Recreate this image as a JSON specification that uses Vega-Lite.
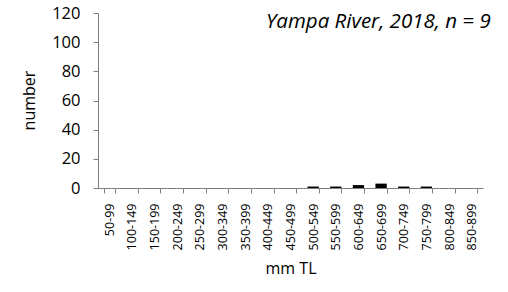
{
  "$schema": "https://vega.github.io/schema/vega-lite/v6.json",
  "width": 385,
  "height": 175,
  "autosize": {"type": "none"},
  "padding": {"left": 98, "top": 13, "right": 25, "bottom": 104},
  "background": "white",
  "config": {"view": {"stroke": null}, "font": "Open Sans", "axis": {"labelOverlap": false}},
  "resolve": {"axis": {"x": "independent", "y": "independent"}},
  "layer": [
    {
      "data": {
        "values": [
          {"range": "50-99", "count": 0},
          {"range": "100-149", "count": 0},
          {"range": "150-199", "count": 0},
          {"range": "200-249", "count": 0},
          {"range": "250-299", "count": 0},
          {"range": "300-349", "count": 0},
          {"range": "350-399", "count": 0},
          {"range": "400-449", "count": 0},
          {"range": "450-499", "count": 0},
          {"range": "500-549", "count": 1},
          {"range": "550-599", "count": 1},
          {"range": "600-649", "count": 2},
          {"range": "650-699", "count": 3},
          {"range": "700-749", "count": 1},
          {"range": "750-799", "count": 1},
          {"range": "800-849", "count": 0},
          {"range": "850-899", "count": 0}
        ]
      },
      "mark": {"type": "bar", "color": "black"},
      "encoding": {
        "x": {
          "field": "range",
          "type": "ordinal",
          "sort": null,
          "scale": {"paddingInner": 0.5, "paddingOuter": 0.25},
          "axis": {
            "title": "mm TL",
            "labelAngle": -90,
            "labelAlign": "right",
            "labelBaseline": "middle",
            "labelOverlap": false,
            "tickBand": "extent",
            "tickSize": 5,
            "labelPadding": 10,
            "labelFontSize": 12.5,
            "labelColor": "black",
            "titleFontSize": 16,
            "titleFontWeight": "normal",
            "titleColor": "black",
            "titleY": 72,
            "titleBaseline": "top",
            "domainColor": "#7f7f7f",
            "tickColor": "#7f7f7f",
            "grid": false
          }
        },
        "y": {
          "field": "count",
          "type": "quantitative",
          "scale": {"domain": [0, 120], "nice": false},
          "axis": {
            "title": "number",
            "values": [0, 20, 40, 60, 80, 100, 120],
            "labelOverlap": false,
            "tickSize": 5,
            "labelPadding": 13,
            "labelFontSize": 16.5,
            "labelColor": "black",
            "titleFontSize": 16,
            "titleFontWeight": "normal",
            "titleColor": "black",
            "titleX": -64,
            "titleY": 87,
            "titleBaseline": "alphabetic",
            "domainColor": "#7f7f7f",
            "tickColor": "#7f7f7f",
            "grid": false
          }
        }
      }
    },
    {
      "data": {"values": [{"label": "Yampa River, 2018, n = 9"}]},
      "mark": {
        "type": "text",
        "align": "right",
        "baseline": "alphabetic",
        "dx": 19,
        "font": "Open Sans",
        "fontSize": 20.5,
        "fontStyle": "italic",
        "fontWeight": 400,
        "fill": "black"
      },
      "encoding": {
        "x": {"datum": "850-899", "type": "ordinal", "axis": null},
        "y": {"datum": 109.4, "type": "quantitative", "axis": null},
        "text": {"field": "label"}
      }
    }
  ]
}
